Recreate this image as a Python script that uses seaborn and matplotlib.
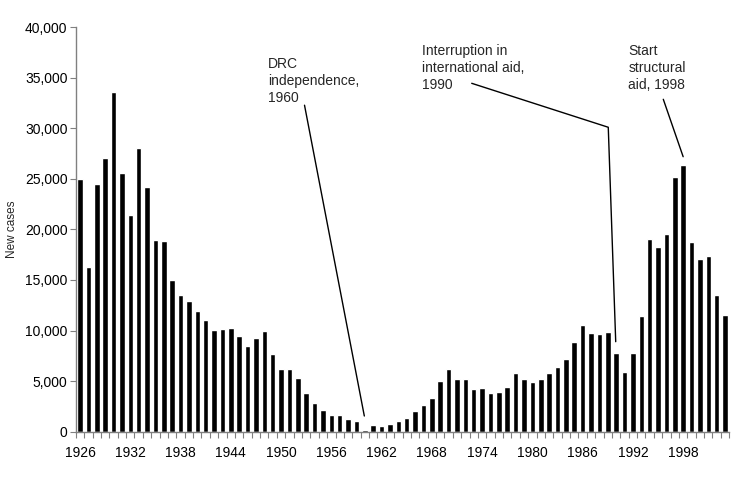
import matplotlib
matplotlib.use("Agg")
import matplotlib.pyplot as plt
import seaborn as sns
import pandas as pd
import numpy as np
from matplotlib.ticker import FuncFormatter, FixedLocator

years = list(range(1926, 2004))
cases = [25000, 16300, 24500, 27100, 33550, 25600, 21400, 28000, 24150, 18950,
         18800, 14950, 13500, 12950, 11900, 11030, 10010, 10140, 10210, 9480,
         8460, 9250, 9910, 7640, 6150, 6150, 5270, 3850, 2800, 2140,
         1650, 1610, 1290, 1060, 170, 630, 530, 790, 1030, 1380,
         2070, 2640, 3300, 5010, 6190, 5170, 5240, 4190, 4330, 3780,
         3890, 4450, 5830, 5210, 4880, 5170, 5770, 6360, 7210, 8830,
         10570, 9750, 9650, 9850, 7740, 5860, 7800, 11460, 19060, 18240,
         19500, 25160, 26370, 18740, 17060, 17390, 13500, 11530]
label_years = list(range(1926, 2004, 6))
y_ticks = list(range(0, 40001, 5000))

df = pd.DataFrame({"year": [str(y) for y in years], "cases": cases})

sns.set_theme(style="white")
plt.rcParams["font.family"] = ["Liberation Sans", "DejaVu Sans"]

fig = plt.figure(figsize=(7.5, 4.78), dpi=100)
ax = fig.add_axes([0.1011, 0.0969, 0.9723 - 0.1011, 0.9435 - 0.0969])

sns.barplot(data=df, x="year", y="cases", color="black", width=0.66,
            saturation=1, ax=ax, order=df["year"].tolist())

ax.set_xlim(-0.5, len(years) - 0.5)
ax.set_ylim(0, 40000)
ax.set_yticks(y_ticks)
ax.yaxis.set_major_formatter(FuncFormatter(lambda v, p: f"{int(v):,}"))

pos = [years.index(y) for y in label_years]
ax.set_xticks(pos)
ax.set_xticklabels([str(y) for y in label_years])
ax.xaxis.set_minor_locator(FixedLocator(np.arange(-0.5, len(years), 1.0)))

gray = "#808080"
for s in ["top", "right"]:
    ax.spines[s].set_visible(False)
for s in ["left", "bottom"]:
    ax.spines[s].set_color(gray)
    ax.spines[s].set_linewidth(1.0)

ax.tick_params(axis="x", which="major", length=0, pad=10, labelsize=10, colors="black")
ax.tick_params(axis="x", which="minor", length=4, width=0.8, color=gray, bottom=True)
ax.tick_params(axis="y", which="major", length=4, width=0.8, color=gray, left=True,
               labelsize=10, labelcolor="black", pad=2)

ax.set_xlabel("")
ax.set_ylabel("New cases", fontsize=8.5)
ax.yaxis.set_label_coords(-0.088, 0.5)

# annotations
fs = 10
ax.text(22.44, 37035, "DRC\nindependence,\n1960", fontsize=fs, va="top", ha="left",
        linespacing=1.25)
ax.text(40.79, 38280, "Interruption in\ninternational aid,\n1990", fontsize=fs,
        va="top", ha="left", linespacing=1.25)
ax.text(65.45, 38280, "Start\nstructural\naid, 1998", fontsize=fs, va="top",
        ha="left", linespacing=1.25)

lw = 1.0
ax.plot([26.8, 33.94], [32270, 1550], color="black", lw=lw, clip_on=False)
ax.plot([46.76, 63.06, 63.95], [34435, 30090, 8895], color="black", lw=lw, clip_on=False)
ax.plot([69.63, 72.0], [32855, 27180], color="black", lw=lw, clip_on=False)

fig.savefig("out.png", dpi=100)
